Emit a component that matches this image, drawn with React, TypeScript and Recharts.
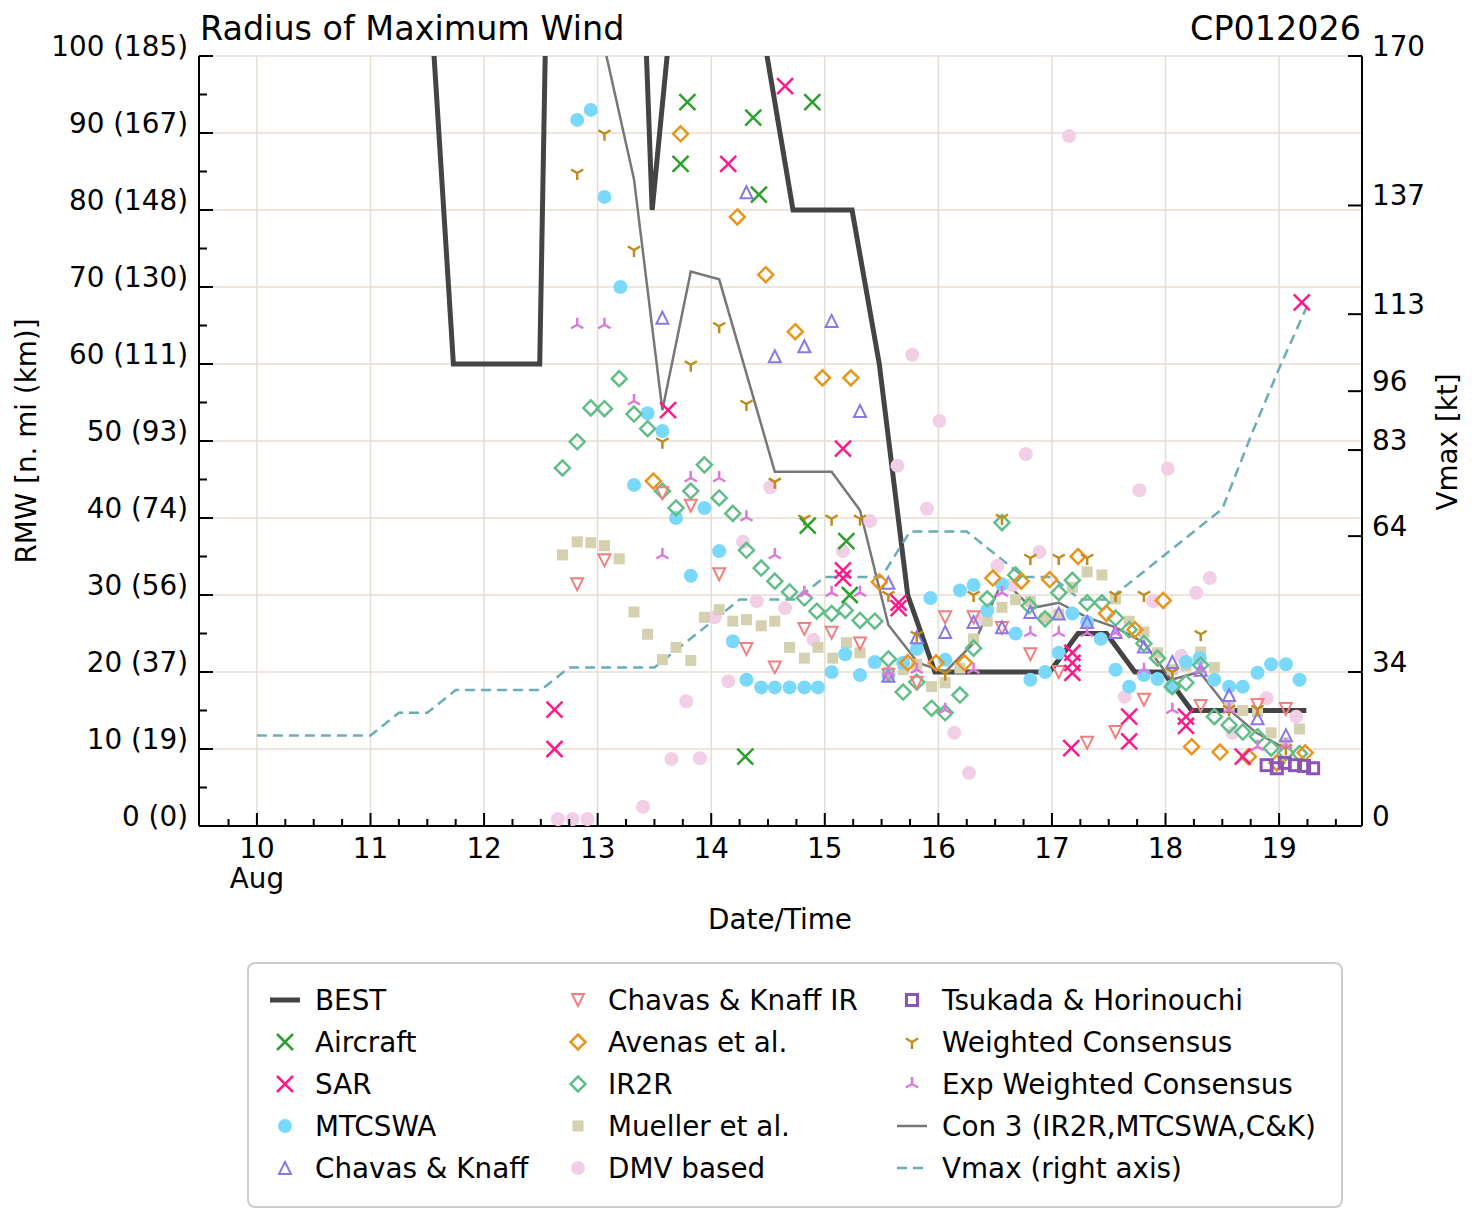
import React from 'react'
import { ComposedChart, Line, Scatter, XAxis, YAxis, CartesianGrid } from 'recharts'

// axis ticks and labels
const dayTicks = [10, 11, 12, 13, 14, 15, 16, 17, 18, 19]
const monthLabel = 'Aug'
const rmwTicks = [0, 10, 20, 30, 40, 50, 60, 70, 80, 90, 100]
const rmwTickLabels = ['0 (0)', '10 (19)', '20 (37)', '30 (56)', '40 (74)', '50 (93)', '60 (111)', '70 (130)', '80 (148)', '90 (167)', '100 (185)']
const vmaxTicks = [0, 34, 64, 83, 96, 113, 137, 170]

// [day of Aug, value]
const best = [[11.25, 160], [11.5, 114], [11.73, 60], [11.98, 60], [12.23, 60], [12.49, 60], [12.74, 268], [13.24, 176], [13.48, 80], [13.73, 118], [13.98, 130], [14.23, 120], [14.48, 101], [14.72, 80], [14.98, 80], [15.24, 80], [15.48, 60], [15.73, 30], [15.97, 20], [16.23, 20], [16.48, 20], [16.73, 20], [16.98, 20], [17.23, 25], [17.48, 25], [17.73, 20], [17.98, 20], [18.23, 15], [18.48, 15], [18.73, 15], [18.98, 15], [19.24, 15]]
const con3 = [[13.07, 100.5], [13.32, 84], [13.57, 54], [13.82, 72], [14.07, 71], [14.56, 46], [15.06, 46], [15.31, 41], [15.56, 26.1], [15.82, 21.2], [16.06, 20], [16.32, 23.9], [16.57, 32], [16.82, 28.3], [17.06, 29], [17.31, 27.1], [17.56, 25.8], [17.81, 23.8], [18.05, 19], [18.3, 20], [18.56, 15.1], [18.8, 12.1], [19.05, 10.1]]
const vmax = [[10, 20], [11, 20], [11.25, 25], [11.5, 25], [11.75, 30], [12.5, 30], [12.75, 35], [13.5, 35], [13.75, 40], [14, 45], [14.25, 50], [14.75, 50], [15, 55], [15.5, 55], [15.75, 65], [16.25, 65], [16.75, 55], [17, 55], [17.25, 50], [17.5, 50], [18, 60], [18.5, 70], [18.75, 86], [19, 101], [19.25, 115]]

const aircraft = [[13.73, 86], [13.79, 94], [14.3, 9], [14.37, 92], [14.42, 82], [14.85, 39], [14.89, 94], [15.19, 37], [15.22, 30]]
const sar = [[12.62, 15.1], [12.62, 10], [13.62, 54], [14.15, 86], [14.65, 96.1], [15.16, 49], [15.16, 33.2], [15.16, 32.2], [15.65, 29], [15.65, 28.3], [17.18, 22.5], [17.18, 21.2], [17.18, 19.9], [17.17, 10.1], [17.68, 14.2], [17.68, 11], [18.18, 14.2], [18.18, 13], [18.68, 9], [19.2, 68]]
const mtcswa = [[12.82, 91.7], [12.94, 93], [13.06, 81.7], [13.2, 70], [13.32, 44.3], [13.44, 53.6], [13.57, 51.3], [13.69, 40], [13.82, 32.5], [13.94, 41.3], [14.07, 35.7], [14.19, 24], [14.31, 19], [14.44, 18], [14.56, 18], [14.69, 18], [14.82, 18], [14.94, 18], [15.06, 20], [15.18, 22.3], [15.31, 19.6], [15.44, 21.3], [15.56, 19.6], [15.69, 21.2], [15.81, 23], [15.93, 29.6], [16.06, 21.6], [16.19, 30.6], [16.31, 31.3], [16.43, 28], [16.56, 31.4], [16.68, 25], [16.81, 19], [16.94, 20], [17.06, 22.5], [17.18, 27.6], [17.31, 26.5], [17.43, 24.3], [17.56, 20.3], [17.68, 18.1], [17.81, 19.6], [17.93, 19.1], [18.05, 18.1], [18.18, 21.3], [18.3, 21.8], [18.43, 19], [18.56, 18.1], [18.68, 18.1], [18.81, 19.9], [18.93, 21], [19.06, 21], [19.18, 19]]
const chavasKnaff = [[13.57, 66], [14.31, 82.3], [14.56, 61], [14.82, 62.3], [15.06, 65.6], [15.31, 53.9], [15.56, 31.6], [15.56, 19.5], [15.81, 24.5], [16.06, 25.2], [16.31, 26.5], [16.56, 25.8], [16.81, 27.8], [17.06, 27.6], [17.31, 26.5], [17.56, 25.2], [17.81, 23.3], [18.06, 21.3], [18.31, 20.3], [18.56, 17], [18.81, 14], [19.06, 11.8]]
const chavasKnaffIr = [[12.82, 31.4], [13.06, 34.5], [13.57, 43.2], [13.82, 41.6], [14.07, 32.7], [14.31, 23], [14.56, 20.6], [14.82, 25.6], [15.06, 25.1], [15.31, 23.7], [15.56, 19.6], [15.81, 18.6], [16.06, 27.1], [16.31, 27.1], [16.56, 25.7], [16.81, 22.3], [17.06, 20], [17.31, 10.8], [17.56, 12.2], [17.81, 16.4], [18.31, 15.6], [18.81, 15.7], [19.06, 15.2]]
const avenas = [[13.49, 44.8], [13.73, 89.9], [14.23, 79.1], [14.48, 71.6], [14.74, 64.2], [14.98, 58.2], [15.23, 58.2], [15.48, 31.7], [15.73, 21.2], [15.98, 21.2], [16.23, 21.2], [16.48, 32.2], [16.73, 31.8], [16.98, 32], [17.23, 35], [17.48, 27.6], [17.73, 25.5], [17.98, 29.3], [18.23, 10.3], [18.48, 9.6], [18.73, 9], [18.98, 8.2], [19.23, 9.5]]
const ir2r = [[12.69, 46.5], [12.82, 49.9], [12.94, 54.3], [13.06, 54.2], [13.19, 58.1], [13.32, 53.5], [13.44, 51.6], [13.57, 43.5], [13.69, 41.3], [13.82, 43.5], [13.94, 46.9], [14.07, 42.6], [14.19, 40.6], [14.31, 35.8], [14.44, 33.5], [14.56, 31.8], [14.69, 30.4], [14.82, 29.6], [14.93, 27.9], [15.06, 27.6], [15.18, 28], [15.31, 26.7], [15.44, 26.6], [15.56, 21.7], [15.69, 17.4], [15.81, 18.7], [15.94, 15.3], [16.06, 14.7], [16.19, 17], [16.31, 23.1], [16.43, 29.5], [16.56, 39.4], [16.68, 32.6], [16.8, 28.6], [16.94, 26.9], [17.06, 30.3], [17.18, 31.9], [17.31, 29], [17.44, 29], [17.56, 27], [17.68, 25.5], [17.81, 23.7], [17.93, 21.8], [18.06, 18.1], [18.18, 18.6], [18.31, 20.9], [18.43, 14.2], [18.56, 13.1], [18.68, 12.2], [18.81, 11.6], [18.93, 10.1], [19.06, 9.5], [19.18, 9.4]]
const mueller = [[12.69, 35.2], [12.82, 36.9], [12.94, 36.8], [13.06, 36.4], [13.19, 34.7], [13.32, 27.8], [13.44, 24.9], [13.57, 21.6], [13.69, 23.2], [13.82, 21.5], [13.94, 27.1], [14.07, 28.1], [14.19, 26.6], [14.31, 26.8], [14.44, 26], [14.56, 26.6], [14.69, 23.2], [14.82, 21.8], [14.94, 23.2], [15.07, 21.8], [15.19, 23.8], [15.31, 22.5], [15.44, 21.2], [15.56, 20], [15.69, 20.3], [15.81, 21], [15.94, 18.1], [16.06, 18.6], [16.19, 20.5], [16.31, 24.3], [16.43, 26.6], [16.56, 28.4], [16.68, 29.4], [16.81, 29.2], [16.94, 27], [17.06, 27.5], [17.18, 31], [17.31, 33], [17.44, 32.6], [17.56, 29.5], [17.68, 26.6], [17.81, 25.2], [17.93, 22.5], [18.06, 20.3], [18.18, 20.8], [18.31, 22.6], [18.43, 20.6], [18.56, 15.6], [18.68, 15], [18.81, 14.8], [18.93, 12.1], [19.06, 10.8], [19.18, 12.6]]
const dmv = [[12.65, 0.9], [12.78, 0.9], [12.91, 0.9], [13.4, 2.5], [13.65, 8.7], [13.78, 16.2], [13.9, 8.8], [14.03, 27.1], [14.15, 18.8], [14.28, 36.9], [14.4, 29.2], [14.52, 44], [14.65, 28.3], [14.9, 24.2], [15.16, 35.7], [15.4, 39.6], [15.64, 46.8], [15.77, 61.2], [15.9, 41.2], [16.01, 52.6], [16.14, 12.1], [16.27, 6.9], [16.38, 27], [16.52, 33.8], [16.65, 31.3], [16.77, 48.3], [16.89, 35.6], [17.15, 89.6], [17.64, 16.8], [17.77, 43.6], [17.89, 29.2], [18.02, 46.4], [18.14, 22.1], [18.27, 30.3], [18.39, 32.2], [18.59, 12.1], [18.89, 16.6], [19.15, 14.2]]
const tsukada = [[18.89, 7.9], [18.98, 7.5], [19.05, 8.2], [19.14, 7.9], [19.22, 7.8], [19.3, 7.5]]
const weightedCons = [[12.82, 84.8], [13.06, 89.9], [13.32, 74.8], [13.57, 49.9], [13.82, 59.9], [14.07, 64.9], [14.31, 54.8], [14.56, 44.7], [14.82, 39.9], [15.06, 39.9], [15.31, 39.9], [15.56, 30], [15.81, 24.8], [16.06, 19.8], [16.31, 30], [16.56, 40], [16.81, 34.8], [17.06, 34.8], [17.31, 34.8], [17.56, 30], [17.81, 30], [18.06, 20], [18.31, 24.9], [18.56, 15.2], [18.81, 15.2], [19.06, 10.1]]
const expWeightedCons = [[12.82, 65.1], [13.06, 65.1], [13.32, 55.2], [13.57, 35.2], [13.82, 45.2], [14.07, 45.2], [14.31, 40.1], [14.56, 35.2], [14.82, 30.3], [15.06, 30.3], [15.31, 30.3], [15.56, 19.9], [15.81, 20.3], [16.06, 15.1], [16.31, 20.3], [16.56, 30.3], [16.81, 25.1], [17.06, 25.1], [17.31, 25.1], [17.56, 25.1], [17.81, 20.3], [18.06, 15.1], [18.31, 20.3], [18.56, 15.1], [18.81, 10.3], [19.06, 10.5]]

const C = {
  best: '#444444',
  con3: '#777777',
  vmax: '#6aadb5',
  aircraft: '#2ca02c',
  sar: '#ff1a8c',
  mtcswa: '#7ad8fb',
  ck: '#8878e8',
  ckIr: '#f08080',
  avenas: '#e8951e',
  ir2r: '#62be88',
  mueller: '#d4d0b0',
  dmv: '#f2cfe6',
  tsukada: '#8a55b5',
  wc: '#c08a1c',
  ewc: '#dd77dd',
}

const FONT = "'DejaVu Sans', sans-serif"
const FS = 27.8
const pts = (a: number[][]) => a.map(([t, v]) => ({ t, v }))

type Kind = 'x' | 'dot' | 'triUp' | 'triDown' | 'diamond' | 'sq' | 'sqOpen' | 'yDown' | 'yUp'

const Marker = ({ kind, cx, cy, color }: { kind: Kind; cx: number; cy: number; color: string }) => {
  if (cx == null || cy == null) return null
  switch (kind) {
    case 'x': {
      const r = 8
      return <path d={`M${cx - r},${cy - r}L${cx + r},${cy + r}M${cx - r},${cy + r}L${cx + r},${cy - r}`} stroke={color} strokeWidth={2.5} fill="none" />
    }
    case 'dot':
      return <circle cx={cx} cy={cy} r={7} fill={color} />
    case 'triUp': {
      const r = 6
      return <path d={`M${cx},${cy - r}L${cx + r},${cy + r}L${cx - r},${cy + r}Z`} stroke={color} strokeWidth={2} fill="none" />
    }
    case 'triDown': {
      const r = 6
      return <path d={`M${cx},${cy + r}L${cx + r},${cy - r}L${cx - r},${cy - r}Z`} stroke={color} strokeWidth={2} fill="none" />
    }
    case 'diamond': {
      const r = 7.5
      return <path d={`M${cx},${cy - r}L${cx + r},${cy}L${cx},${cy + r}L${cx - r},${cy}Z`} stroke={color} strokeWidth={2.5} fill="none" />
    }
    case 'sq':
      return <rect x={cx - 5.5} y={cy - 5.5} width={11} height={11} fill={color} />
    case 'sqOpen':
      return <rect x={cx - 5.5} y={cy - 5.5} width={11} height={11} fill="none" stroke={color} strokeWidth={3} />
    case 'yDown': {
      const r = 7
      return <path d={`M${cx},${cy}L${cx},${cy + r}M${cx},${cy}L${cx - r * 0.87},${cy - r * 0.5}M${cx},${cy}L${cx + r * 0.87},${cy - r * 0.5}`} stroke={color} strokeWidth={2.5} fill="none" />
    }
    case 'yUp': {
      const r = 7
      return <path d={`M${cx},${cy}L${cx},${cy - r}M${cx},${cy}L${cx - r * 0.87},${cy + r * 0.5}M${cx},${cy}L${cx + r * 0.87},${cy + r * 0.5}`} stroke={color} strokeWidth={2.5} fill="none" />
    }
  }
  return null
}

const mk = (kind: Kind, color: string) => (p: any) => <Marker kind={kind} cx={p.cx} cy={p.cy} color={color} />

const isMajor = (v: number) => Math.abs(v - Math.round(v)) < 1e-6

const BottomTick = (p: any) => {
  const v = p.payload.value
  const major = isMajor(v)
  return (
    <g>
      <line x1={p.x} x2={p.x} y1={p.y} y2={p.y - (major ? 13 : 7)} stroke="#000" strokeWidth={2} />
      {major && (
        <text x={p.x} y={p.y + 32} textAnchor="middle" fontSize={FS} fontFamily={FONT} fill="#000">{Math.round(v)}</text>
      )}
      {major && Math.round(v) === dayTicks[0] && (
        <text x={p.x} y={p.y + 62} textAnchor="middle" fontSize={FS} fontFamily={FONT} fill="#000">{monthLabel}</text>
      )}
    </g>
  )
}

const TopTick = (p: any) => {
  const major = isMajor(p.payload.value)
  return <line x1={p.x} x2={p.x} y1={p.y} y2={p.y + (major ? 13 : 7)} stroke="#000" strokeWidth={2} />
}

const LeftTick = (p: any) => {
  const v = p.payload.value
  const i = rmwTicks.indexOf(v)
  const major = i >= 0
  return (
    <g>
      <line x1={p.x} x2={p.x + (major ? 14 : 8)} y1={p.y} y2={p.y} stroke="#000" strokeWidth={2} />
      {major && (
        <text x={p.x - 11} y={p.y} textAnchor="end" fontSize={FS} fontFamily={FONT} fill="#000">{rmwTickLabels[i]}</text>
      )}
    </g>
  )
}

const RightTick = (p: any) => (
  <g>
    <line x1={p.x} x2={p.x - 14} y1={p.y} y2={p.y} stroke="#000" strokeWidth={2} />
    <text x={p.x + 10} y={p.y} textAnchor="start" fontSize={FS} fontFamily={FONT} fill="#000">{p.payload.value}</text>
  </g>
)

const quarterTicks = [dayTicks[0] - 0.25, ...dayTicks.flatMap((d) => [d, d + 0.25, d + 0.5, d + 0.75])].filter((d) => d < 19.72)
const minorRmw = rmwTicks.flatMap((v) => (v < 100 ? [v, v + 5] : [v]))

const scatters: { name: string; data: number[][]; kind: Kind; color: string }[] = [
  { name: 'DMV based', data: dmv, kind: 'dot', color: C.dmv },
  { name: 'Mueller et al.', data: mueller, kind: 'sq', color: C.mueller },
  { name: 'MTCSWA', data: mtcswa, kind: 'dot', color: C.mtcswa },
  { name: 'IR2R', data: ir2r, kind: 'diamond', color: C.ir2r },
  { name: 'Chavas & Knaff IR', data: chavasKnaffIr, kind: 'triDown', color: C.ckIr },
  { name: 'Chavas & Knaff', data: chavasKnaff, kind: 'triUp', color: C.ck },
  { name: 'Avenas et al.', data: avenas, kind: 'diamond', color: C.avenas },
  { name: 'Weighted Consensus', data: weightedCons, kind: 'yDown', color: C.wc },
  { name: 'Exp Weighted Consensus', data: expWeightedCons, kind: 'yUp', color: C.ewc },
  { name: 'Tsukada & Horinouchi', data: tsukada, kind: 'sqOpen', color: C.tsukada },
  { name: 'Aircraft', data: aircraft, kind: 'x', color: C.aircraft },
  { name: 'SAR', data: sar, kind: 'x', color: C.sar },
]

type LegendItem = { label: string; kind?: Kind; color: string; line?: 'best' | 'con3' | 'vmax' }
const legendCols: LegendItem[][] = [
  [
    { label: 'BEST', color: C.best, line: 'best' },
    { label: 'Aircraft', kind: 'x', color: C.aircraft },
    { label: 'SAR', kind: 'x', color: C.sar },
    { label: 'MTCSWA', kind: 'dot', color: C.mtcswa },
    { label: 'Chavas & Knaff', kind: 'triUp', color: C.ck },
  ],
  [
    { label: 'Chavas & Knaff IR', kind: 'triDown', color: C.ckIr },
    { label: 'Avenas et al.', kind: 'diamond', color: C.avenas },
    { label: 'IR2R', kind: 'diamond', color: C.ir2r },
    { label: 'Mueller et al.', kind: 'sq', color: C.mueller },
    { label: 'DMV based', kind: 'dot', color: C.dmv },
  ],
  [
    { label: 'Tsukada & Horinouchi', kind: 'sqOpen', color: C.tsukada },
    { label: 'Weighted Consensus', kind: 'yDown', color: C.wc },
    { label: 'Exp Weighted Consensus', kind: 'yUp', color: C.ewc },
    { label: 'Con 3 (IR2R,MTCSWA,C&K)', color: C.con3, line: 'con3' },
    { label: 'Vmax (right axis)', color: C.vmax, line: 'vmax' },
  ],
]
const legendColX = [285, 578, 912]

const Legend = () => (
  <g>
    <rect x={248} y={963} width={1094} height={244} rx={7} fill="#fff" stroke="#cccccc" strokeWidth={2} />
    {legendCols.map((col, ci) =>
      col.map((it, ri) => {
        const cx = legendColX[ci]
        const cy = 1000 + ri * 42
        return (
          <g key={`${ci}-${ri}`}>
            {it.line === 'best' && <line x1={cx - 15} x2={cx + 15} y1={cy} y2={cy} stroke={it.color} strokeWidth={5} />}
            {it.line === 'con3' && <line x1={cx - 15} x2={cx + 15} y1={cy} y2={cy} stroke={it.color} strokeWidth={2.5} />}
            {it.line === 'vmax' && <line x1={cx - 15} x2={cx + 15} y1={cy} y2={cy} stroke={it.color} strokeWidth={2.5} strokeDasharray="10 6" />}
            {it.kind && <Marker kind={it.kind} cx={cx} cy={cy} color={it.color} />}
            <text x={cx + 30} y={cy + 10} fontSize={FS} fontFamily={FONT} fill="#000">{it.label}</text>
          </g>
        )
      })
    )}
  </g>
)

export default function App() {
  return (
    <div style={{ position: 'absolute', left: 0, top: 0, width: 1477, height: 1222, background: '#fff', fontFamily: FONT }}>
      <ComposedChart width={1477} height={940} margin={{ top: 56, right: 0, bottom: 0, left: 0 }}>
        <CartesianGrid xAxisId="b" yAxisId="l" stroke="#e6ded3" strokeWidth={1.5} verticalValues={dayTicks} horizontalValues={rmwTicks} />
        <XAxis
          xAxisId="b" dataKey="t" type="number" domain={[9.49, 19.73]} allowDataOverflow
          ticks={quarterTicks} interval={0} tick={BottomTick} tickLine={false} tickSize={0} tickMargin={0}
          axisLine={{ stroke: '#000', strokeWidth: 2 }} height={114}
        />
        <XAxis
          xAxisId="t" orientation="top" dataKey="t" type="number" domain={[9.49, 19.73]} allowDataOverflow
          ticks={quarterTicks} interval={0} tick={TopTick} tickLine={false} tickSize={0} tickMargin={0}
          axisLine={{ stroke: '#000', strokeWidth: 2 }} height={0}
        />
        <YAxis
          yAxisId="l" dataKey="v" type="number" domain={[0, 100]} allowDataOverflow
          ticks={minorRmw} interval={0} tick={LeftTick} tickLine={false} tickSize={0} tickMargin={0}
          axisLine={{ stroke: '#000', strokeWidth: 2 }} width={199}
        />
        <YAxis
          yAxisId="r" orientation="right" dataKey="v" type="number" domain={[0, 170]} allowDataOverflow
          ticks={vmaxTicks} interval={0} tick={RightTick} tickLine={false} tickSize={0} tickMargin={0}
          axisLine={{ stroke: '#000', strokeWidth: 2 }} width={115}
        />
        <Line data={pts(best)} xAxisId="b" yAxisId="l" dataKey="v" stroke={C.best} strokeWidth={5} dot={false} activeDot={false} isAnimationActive={false} />
        <Line data={pts(con3)} xAxisId="b" yAxisId="l" dataKey="v" stroke={C.con3} strokeWidth={2.5} dot={false} activeDot={false} isAnimationActive={false} />
        {scatters.map((s) => (
          <Scatter
            key={s.name} name={s.name} data={pts(s.data)} xAxisId="b" yAxisId="l" dataKey="v"
            shape={mk(s.kind, s.color)} isAnimationActive={false}
          />
        ))}
        <Line data={pts(vmax)} xAxisId="b" yAxisId="r" dataKey="v" stroke={C.vmax} strokeWidth={2.5} strokeDasharray="10 6" dot={false} activeDot={false} isAnimationActive={false} />
      </ComposedChart>
      <svg width={1477} height={1222} style={{ position: 'absolute', left: 0, top: 0, pointerEvents: 'none' }}>
        <text x={200} y={40} fontSize={33.4} fontFamily={FONT} fill="#000">Radius of Maximum Wind</text>
        <text x={1361} y={40} fontSize={33.4} fontFamily={FONT} fill="#000" textAnchor="end">CP012026</text>
        <text x={36} y={441} fontSize={FS} fontFamily={FONT} fill="#000" textAnchor="middle" transform="rotate(-90 36 441)">RMW [n. mi (km)]</text>
        <text x={1457} y={442} fontSize={FS} fontFamily={FONT} fill="#000" textAnchor="middle" transform="rotate(-90 1457 442)">Vmax [kt]</text>
        <text x={780} y={929} fontSize={FS} fontFamily={FONT} fill="#000" textAnchor="middle">Date/Time</text>
        <Legend />
      </svg>
    </div>
  )
}
